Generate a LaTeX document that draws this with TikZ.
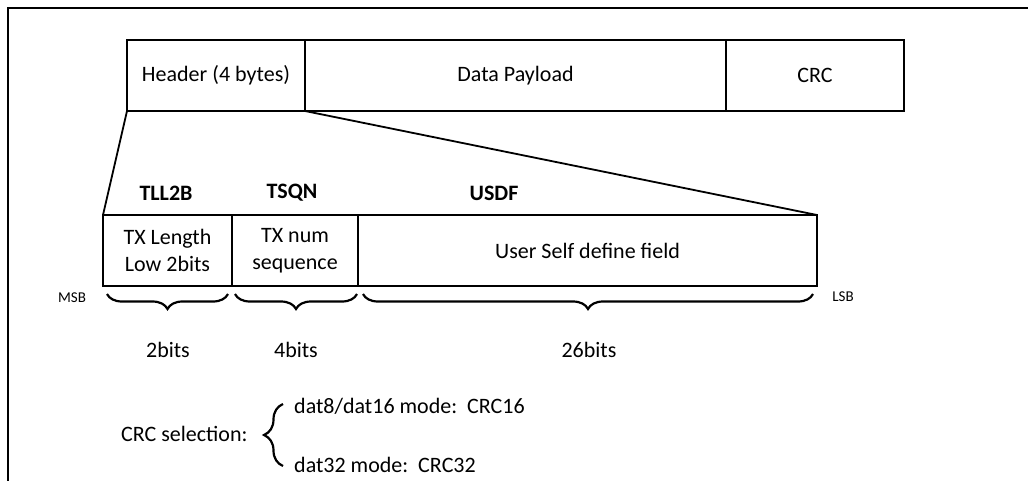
\documentclass[tikz,border=0pt]{standalone}
\usepackage{fontspec}
\setmainfont{Carlito}
\usetikzlibrary{decorations.pathreplacing}
\begin{document}
\begin{tikzpicture}[x=1pt,y=-1pt,
  box/.style={draw,line width=2.8pt,outer sep=0pt,inner sep=0pt,minimum height=71pt,align=center,font=\fontsize{22}{27}\selectfont},
  lbl/.style={font=\fontsize{22}{27}\selectfont,inner sep=0pt},
  blbl/.style={font=\fontsize{22}{27}\selectfont\bfseries,inner sep=0pt},
  small/.style={font=\fontsize{15}{17}\selectfont,inner sep=0pt},
  fan/.style={line width=1.8pt},
  bbrace/.style={decorate,decoration={brace,mirror,amplitude=15pt},line width=2.2pt}]
\useasboundingbox (0,0) rectangle (1028,480);
\begin{scope}
\clip (0,0) rectangle (1028,480);
\draw[line width=2.4pt] (8,8) rectangle (1060,520);
\end{scope}
% top row
\node[box,minimum width=178pt] (hdr) at (216,75.5) {Header (4 bytes)};
\node[box,minimum width=421pt] (data) at (515.5,75.5) {Data Payload};
\node[box,minimum width=178pt] (crc) at (815,75.5) {CRC};
% bottom row
\node[box,minimum width=129pt] (f1) at (167.5,250.5) {TX Length\\Low 2bits};
\node[box,minimum width=126pt] (f2) at (295,250.5) {TX num\\sequence};
\node[box,minimum width=459pt] (f3) at (587.5,250.5) {User Self define field};
% fan lines
\draw[fan] (hdr.south west) -- (f1.north west);
\draw[fan] (hdr.south east) -- (f3.north east);
% field names
\node[blbl] (n1) at (166,193) {TLL2B};
\node[blbl] (n2) at (292,193) {TSQN};
\node[blbl] (n3) at (494,193) {USDF};
% braces
\coordinate (b1a) at (107,294); \coordinate (b1b) at (228,294);
\coordinate (b2a) at (235,294); \coordinate (b2b) at (357,294);
\coordinate (b3a) at (363,294); \coordinate (b3b) at (813,294);
\draw[bbrace] (b1a) -- (b1b);
\draw[bbrace] (b2a) -- (b2b);
\draw[bbrace] (b3a) -- (b3b);
\node[lbl] (w1) at (168,350) {2bits};
\node[lbl] (w2) at (296,350) {4bits};
\node[lbl] (w3) at (589,350) {26bits};
\node[small] (msb) at (72,298) {MSB};
\node[small] (lsb) at (843,297) {LSB};
% CRC selection
\node[lbl,anchor=west] (sel) at (121,434) {CRC selection:};
\coordinate (cb) at (283,466); \coordinate (ct) at (283,404);
\draw[decorate,decoration={brace,amplitude=19pt},line width=2.2pt] (cb) -- (ct);
\node[lbl,anchor=west] (m1) at (294,406) {dat8/dat16 mode:\ \ CRC16};
\node[lbl,anchor=west] (m2) at (294,465) {dat32 mode:\ \ CRC32};
\end{tikzpicture}
\end{document}
